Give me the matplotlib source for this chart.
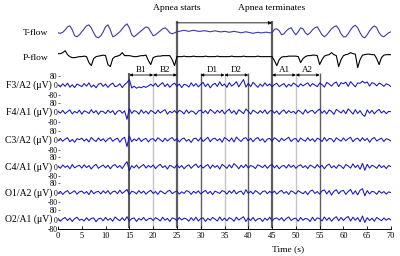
import numpy as np
import matplotlib.pyplot as plt
from matplotlib.transforms import blended_transform_factory

plt.rcParams["font.family"] = ["Liberation Serif", "DejaVu Serif"]

# sampling grid, 0.5 s
t = np.linspace(0, 70, 141)

# airflow traces (arbitrary units, up = positive)
t_flow = [
    -1, -1.5, -0.5, 2, 5, 6, 2, -4, -5, -3,
    0, 3, 6, 7, 4, -1, -5, -6, -4, 0,
    5, 7, 2, -5, -4, -2, 0, 3, 6, 8,
    4, -3, -5, -3, -1, 1, 3, 5, 4, 0,
    -4, -3, -1, 1, 3, 4, 2, -1, -2, -1,
    0, 0.5, 1, 1.5, 1, 0.5, 1, 1.5, 1, 0.5,
    0.5, 1, 1, 0.5, 0, 0.5, 1, 0.5, 0, 0,
    0.5, 0, -0.5, 0, 0.5, 0, -0.5, -1, -0.5, 0,
    -0.5, -1, -1.5, -1, -0.5, -1, -1, -0.5, -0.5, -1,
    -1, 2.5, 3, 1, -3, -2, 1, 3, 4, 0,
    -3, 0, 4, 3, -1, -3, -1, 2, 4, 5,
    1, -3, -5, -3, 0, 3, 5, 6, 3, -2,
    -5, -5, -2, 2, 5, 6.5, 4, -1, -5, -6,
    -3, 1, 4, 6, 4, -1, -4, -5, -3, -1,
    0,
]
p_flow = [
    3, 3, 4, 6, 2, 0, -1, -1, -0.5, 0,
    0, 0.5, 0, -6, -9, -2, 0, 0.5, 1, 1.5,
    1, -8, -10, -2, 0, 0.5, 1.5, 4, 1, 1,
    1, 0.5, 0, 0, 0.5, 1, 1, 1.5, -4, -8,
    -1, 0, 0.5, 0.5, 1, 1, 1, 1, -3, -9,
    0, 0, 0, 0.5, 0, 0, 0, 0.5, 0, 0,
    0, 0, 0.5, 0, 0, 0, 0, 0.5, 0, 0,
    0, 0, 0, 0.5, 0, 0, 0, 0, 0.5, 0,
    0, 0, 0, 0, 0.5, 0, 0, 0, 0, 0,
    0, -4, -9, -3, -0.5, 0, 0, 0.5, 0.5, 0.5,
    0.5, 0, -6, -2, 0, 1, 1, 1.5, 1.5, 1,
    -8, -3, 0.5, 1.5, 2, 4, 2, 1, -10, -3,
    1, 2, 2.5, 4, 3, 2.5, -11, -3, 1.5, 2,
    2.5, 2.5, 2, 2, -2, -8, -1, 1.5, 2, 2,
    2,
]

# EEG channels (µV)
channels = ["F3/A2 (μV)", "F4/A1 (μV)", "C3/A2 (μV)", "C4/A1 (μV)", "O1/A2 (μV)", "O2/A1 (μV)"]
f3 = [
    5, -12, 14, -8, 20, -15, 6, -18, 12, 2,
    -10, 16, -6, 22, -14, 4, -20, 10, 18, -8,
    12, -16, 6, 20, -10, -4, 14, -18, 8, 24,
    50, -22, -6, -24, -12, -20, -8, -16, -4, 10,
    -6, 18, -12, 8, 24, -10, 14, -16, 6, 20,
    -8, 12, -18, 10, 4, -14, 22, -6, 16, -12,
    8, 26, -10, 14, -20, 6, 18, -8, 30, -4,
    12, -16, 24, -6, 10, 32, -12, 20, 50, -14,
    18, -10, 26, 6, -16, 12, -8, 22, -4, 14,
    -12, 8, 18, -10, 4, 16, -14, 10, -6, 20,
    6, -12, 14, -4, 10, 22, -8, 16, 4, -10,
    20, 8, -14, 26, 12, -6, 18, 30, -10, 24,
    14, 28, -8, 32, 10, -12, 22, 18, 36, 20,
    30, -6, 24, 16, -4, 20, 10, -8, 14, 6,
    -10,
]
f4 = [
    10, -8, 16, -12, 6, 20, -14, 8, -6, 18,
    -16, 12, 4, -10, 22, -6, 14, -18, 10, 6,
    -12, 18, -4, 14, -20, 8, 16, -8, 12, -60,
    30, -10, 14, 6, -16, 20, -8, 10, -14, 16,
    4, -12, 18, -6, 10, 22, -16, 8, -4, 14,
    -10, 16, 6, -14, 20, -8, 12, 4, -18, 10,
    18, -6, 14, -12, 24, 8, -10, 16, -4, 20,
    -14, 10, 26, -8, 14, -18, 22, 6, -12, 28,
    8, -16, 18, 4, -10, 14, -6, 20, -14, 10,
    16, -8, 12, -18, 6, 20, -10, 14, -4, 8,
    -12, 18, 4, -16, 22, -6, 10, 16, -10, 12,
    26, -8, 14, -14, 20, 6, -18, 24, 10, -6,
    18, -12, 28, 8, -16, 22, -10, 14, -20, -35,
    20, -8, 16, -14, 10, 24, -6, 12, -12, 8,
    4,
]
c3 = [
    -6, 14, -10, 8, 20, -14, 6, -18, 12, 4,
    16, -8, 10, -16, 22, 2, -12, 18, -6, 12,
    -14, 8, 20, -10, 6, 16, -18, 10, 24, -55,
    35, -14, 10, -6, 18, -12, 6, 14, -16, 8,
    12, -10, 20, 4, -14, 16, -8, 10, 22, -6,
    14, -16, 8, 18, -10, 6, -20, 12, 16, -8,
    20, -12, 6, 24, -14, 10, 16, -6, 12, -18,
    22, 8, -10, 18, -16, 26, 4, -12, 14, 20,
    -8, 16, -14, 10, 22, -6, 12, -18, 8, 14,
    -10, 20, 6, -14, 16, -4, 10, 24, -12, 8,
    14, -16, 18, 2, -10, 20, -6, 12, -14, 16,
    6, -12, 22, -8, 14, 10, -16, 20, 4, -10,
    18, -6, 12, 24, -14, 8, 16, -10, 20, -4,
    14, -18, 10, 22, -8, 6, 16, -12, 12, 4,
    -8,
]
c4 = [
    8, -12, 16, -4, 10, -16, 20, -8, 6, 14,
    -10, 18, -6, 12, -18, 8, 22, -12, 4, 16,
    -8, 14, -16, 10, 20, -6, 12, -14, 18, 45,
    -30, 10, -8, 16, -12, 6, 20, -10, 12, -4,
    16, -14, 8, 22, -6, 10, -18, 14, 4, -10,
    20, -8, 12, -16, 6, 18, -12, 10, 24, -6,
    14, -10, 8, 20, -14, 16, -4, 12, -18, 22,
    6, -12, 18, -8, 28, 10, -16, 14, -6, 20,
    -10, 12, 4, -14, 18, 8, -6, 16, -12, 10,
    22, -8, 14, -16, 6, 12, -10, 20, -4, 14,
    -12, 8, 18, -6, 10, -14, 16, 4, -10, 20,
    -4, 14, -16, 12, 24, -8, 10, -12, 18, 6,
    -14, 20, 8, -10, 26, -6, 16, -20, 30, -28,
    22, -10, 14, 4, -12, 18, -6, 10, -14, 12,
    2,
]
o1 = [
    -8, 12, -14, 6, 18, -10, 4, 16, -12, 8,
    14, -6, 10, -16, 20, -8, 6, 12, -10, 16,
    -4, 18, -12, 8, 14, -8, 22, -6, 10, 28,
    -16, 12, 6, -10, 18, -4, 14, -12, 8, 20,
    -6, 10, -14, 16, 4, -10, 12, 20, -8, 6,
    14, -12, 8, -6, 18, 10, -14, 12, -4, 16,
    -10, 6, 20, -8, 12, -16, 14, 4, -6, 18,
    10, -12, 16, -4, 22, -10, 8, 14, -16, 26,
    -6, 12, -10, 18, 4, -14, 10, 16, -8, 12,
    -4, 14, -12, 8, 20, -6, 10, -14, 16, 6,
    -10, 18, 4, -8, 12, -16, 14, 22, -6, 10,
    -12, 16, 24, -10, 18, -20, 12, 26, -8, 14,
    20, -14, 10, 28, -12, 16, -18, 22, 34, -26,
    18, -10, 12, 6, -14, 16, -4, 10, -12, 8,
    0,
]
o2 = [
    10, -14, 6, 18, -8, 12, -16, 8, 20, -6,
    4, -12, 16, -8, 10, 14, -18, 6, 12, -10,
    18, -6, 10, -14, 22, 4, -10, 16, -8, 24,
    -12, 8, 14, -16, 10, -4, 18, -10, 6, 12,
    -8, 16, 4, -12, 20, -6, 10, -16, 14, 8,
    -10, 18, -4, 12, 6, -14, 16, -8, 20, -12,
    8, 14, -16, 10, -6, 18, 4, -12, 22, -8,
    12, -10, 16, 6, -14, 20, -4, 10, 24, -16,
    14, -8, 18, -12, 6, 10, -16, 12, -6, 20,
    -10, 8, 14, -4, 16, -12, 10, 22, -8, 6,
    12, -14, 18, -6, 10, 4, -16, 20, -10, 14,
    8, -12, 22, -6, 16, -14, 10, 24, -10, 18,
    -8, 14, 26, -12, 20, -6, 16, -18, 30, -24,
    16, -8, 12, -14, 18, 4, -10, 14, -6, 10,
    -4,
]
eeg = [f3, f4, c3, c4, o1, o2]

# event markers (s)
apnea_start, apnea_end = 25, 45
segments = [("B1", 15, 20), ("B2", 20, 25), ("D1", 30, 35), ("D2", 35, 40),
            ("A1", 45, 50), ("A2", 50, 55)]

# layout (vertical axis measured in pixel rows from the top)
uv_per_px = 80 / 9.5
eeg_rows = [86, 113, 141, 168, 194, 221]
tflow_row, pflow_row = 32, 57
bottom = 229

fig = plt.figure(figsize=(4, 2.56), dpi=100)
ax = fig.add_axes([58 / 400, (256 - bottom) / 256, 333 / 400, bottom / 256])
ax.set_xlim(0, 70)
ax.set_ylim(bottom, 0)

# vertical markers
dark, light = "#5e5e5e", "#c4c4c4"
ax.vlines([apnea_start, apnea_end], 21, bottom, color=dark, lw=1.6, zorder=1)
ax.vlines([15], 73, bottom, color=dark, lw=1.5, zorder=1)
ax.vlines([30, 40, 55], 73, bottom, color=dark, lw=1.0, zorder=1)
ax.vlines([20, 35, 50], 73, bottom, color=light, lw=1.0, zorder=1)

# traces
ax.plot(t, tflow_row - np.array(t_flow), color="#3b3ba8", lw=0.8, zorder=3)
ax.plot(t, pflow_row - np.array(p_flow), color="black", lw=0.8, zorder=3)
for row, sig in zip(eeg_rows, eeg):
    ax.plot(t, row - np.array(sig) / uv_per_px, color="#1414c8", lw=0.75, zorder=3)

# labels on the left
trans = blended_transform_factory(ax.transAxes, ax.transData)
for name, row in zip(["T-flow", "P-flow"], [tflow_row + 1, pflow_row + 1]):
    ax.annotate(name, xy=(0, row), xycoords=trans, xytext=(-10, 0),
                textcoords="offset pixels", ha="right", va="center", fontsize=6.8)
for name, row in zip(channels, eeg_rows):
    ax.annotate(name, xy=(0, row), xycoords=trans, xytext=(-6, 0),
                textcoords="offset pixels", ha="right", va="center", fontsize=7)

ticks, tick_labels = [], []
for row in eeg_rows:
    ticks += [row - 80 / uv_per_px, row, row + 80 / uv_per_px]
    tick_labels += ["80", "0", "-80"]
ax.set_yticks(ticks)
ax.set_yticklabels(tick_labels)
ax.tick_params(axis="y", direction="in", length=1.2, width=0.4, pad=0.5, labelsize=5.5)

ax.set_xticks(range(0, 75, 5))
ax.tick_params(axis="x", direction="in", length=2, width=0.6, pad=2, labelsize=6)
ax.set_xlabel("Time (s)", fontsize=6.8)
ax.xaxis.set_label_coords((288 - 58) / 333, -16 / bottom)

for side in ["top", "right", "left"]:
    ax.spines[side].set_visible(False)
ax.spines["bottom"].set_linewidth(0.7)

# apnea annotation
ax.text(apnea_start, 8, "Apnea starts", ha="center", va="center", fontsize=6.8)
ax.text(apnea_end, 8, "Apnea terminates", ha="center", va="center", fontsize=6.8)
ax.annotate("", xy=(apnea_end, 23), xytext=(apnea_start, 23),
            arrowprops=dict(arrowstyle="-|>", lw=0.6, color="black",
                            mutation_scale=5, shrinkA=0, shrinkB=0))

# segment brackets
for name, x0, x1 in segments:
    ax.annotate("", xy=(x1, 75.5), xytext=(x0, 75.5),
                arrowprops=dict(arrowstyle="<|-|>", lw=0.6, color="black",
                                mutation_scale=4, shrinkA=0, shrinkB=0))
    ax.text((x0 + x1) / 2, 70, name, ha="center", va="center", fontsize=6.5)

fig.savefig("out.png", dpi=100)
